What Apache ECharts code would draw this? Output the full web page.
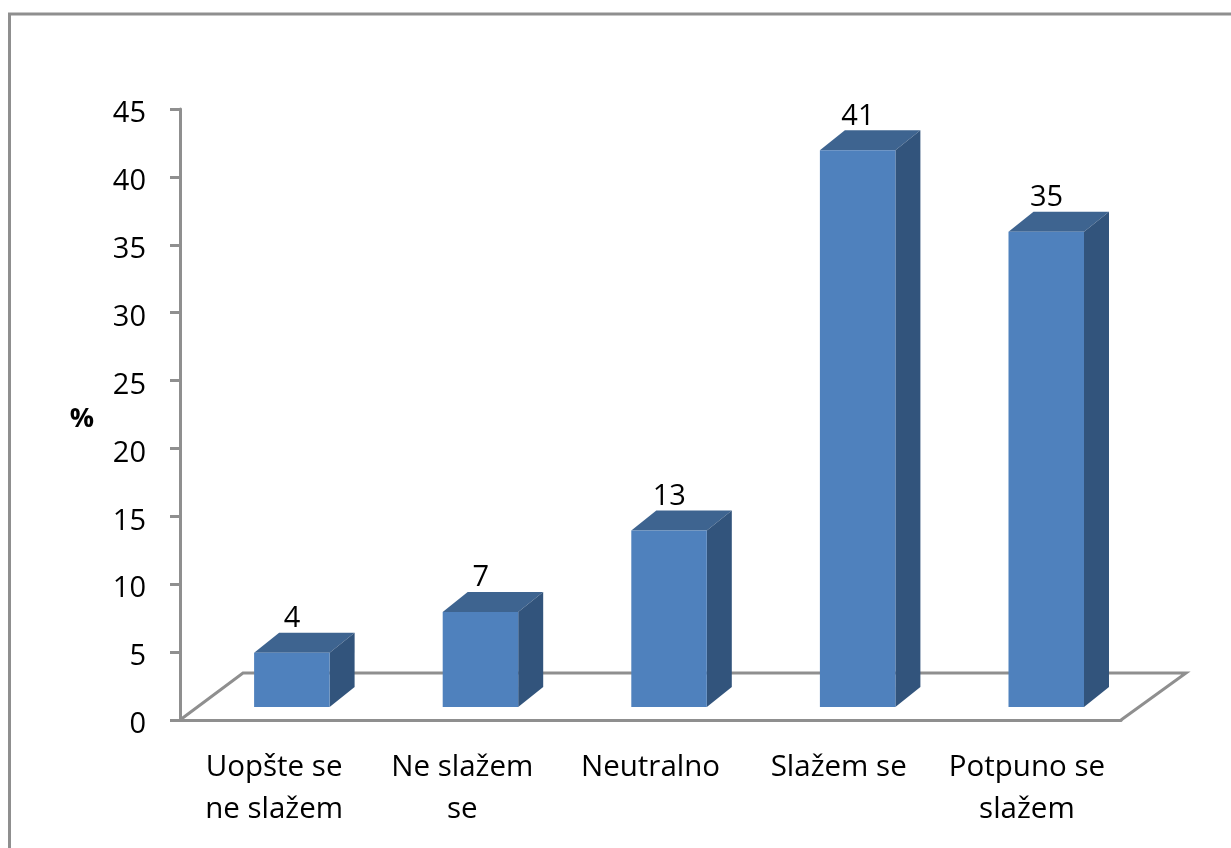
<!DOCTYPE html>
<html>
<head>
    <meta charset="utf-8">
    <title>Slaganje</title>
    <style>
        html, body { margin: 0; padding: 0; background: #fff; overflow: hidden; }
        #chartmain { width: 1231px; height: 848px; }
    </style>
    <script src="https://cdn.jsdelivr.net/npm/echarts@6/dist/echarts.min.js"></script>
</head>
<body>
<div id="chartmain"></div>
<script>
    var categories = ['Uopšte se\nne slažem', 'Ne slažem\nse', 'Neutralno', 'Slažem se', 'Potpuno se\nslažem'];
    var values = [4, 7, 13, 41, 35];
    var yMax = 45;
    var yStep = 5;
    var yName = '%';

    var fontName = '"Open Sans", "Noto Sans", sans-serif';
    var greyLine = '#8f8f8f';
    // 3D look of the old office chart
    var depthX = 25, depthY = 20;
    var barHalf = 38, barShift = 18, baseLift = 13;
    var floorX = 63, floorY = 47;

    function renderBar(params, api) {
        var top = api.coord([api.value(0), api.value(1)]);
        var base = api.coord([api.value(0), 0]);
        // bars sit a touch wider apart than the axis ticks in the original
        var cx = top[0] + barShift + api.value(0) * 0.4;
        var l = cx - barHalf;
        var r = cx + barHalf - 0.5;
        var t = top[1] - baseLift;
        var b = base[1] - baseLift;
        return {
            type: 'group',
            children: [
                {
                    type: 'polygon',
                    shape: {points: [[l, t], [l + depthX, t - depthY], [r + depthX, t - depthY], [r, t]]},
                    style: {fill: '#3e6490'}
                },
                {
                    type: 'polygon',
                    shape: {points: [[r, t], [r + depthX, t - depthY], [r + depthX, b - depthY], [r, b]]},
                    style: {fill: '#32547c'}
                },
                {
                    type: 'rect',
                    shape: {x: l, y: t, width: r - l, height: b - t},
                    style: {fill: '#4f81bd'}
                },
                {
                    type: 'text',
                    style: {
                        text: String(api.value(1)),
                        x: cx,
                        y: t - depthY - 14,
                        align: 'center',
                        verticalAlign: 'middle',
                        fill: '#000',
                        font: '29px ' + fontName
                    }
                }
            ]
        };
    }

    function renderFloor(params) {
        var c = params.coordSys;
        var b = c.y + c.height;
        return {
            type: 'polyline',
            shape: {
                points: [[c.x, b], [c.x + floorX, b - floorY], [c.x + c.width + floorX + 2, b - floorY], [c.x + c.width, b]]
            },
            style: {fill: null, stroke: greyLine, lineWidth: 3}
        };
    }

    var myChart = echarts.init(document.getElementById('chartmain'));
    myChart.setOption({
        animation: false,
        backgroundColor: '#fff',
        graphic: [{
            type: 'polyline',
            shape: {points: [[9.5, 848], [9.5, 14], [1231, 14]]},
            style: {fill: null, stroke: greyLine, lineWidth: 3},
            silent: true
        }],
        grid: {left: 180, top: 109, width: 941, height: 611},
        xAxis: {
            type: 'category',
            data: categories,
            axisLine: {lineStyle: {color: greyLine, width: 3}},
            axisTick: {length: 10, lineStyle: {color: greyLine, width: 3}},
            axisLabel: {
                color: '#000',
                fontFamily: fontName,
                fontSize: 29.5,
                lineHeight: 42,
                margin: 27,
                interval: 0
            }
        },
        yAxis: {
            type: 'value',
            min: 0,
            max: yMax,
            interval: yStep,
            name: yName,
            nameLocation: 'middle',
            nameGap: 86,
            nameRotate: 0,
            nameTextStyle: {color: '#000', fontFamily: fontName, fontSize: 27, fontWeight: 'bold', verticalAlign: 'top', lineHeight: 10},
            splitLine: {show: false},
            axisLine: {show: true, lineStyle: {color: greyLine, width: 3}},
            axisTick: {show: true, length: 10, lineStyle: {color: greyLine, width: 3}},
            axisLabel: {color: '#000', fontFamily: fontName, fontSize: 29, margin: 34, verticalAlign: 'top', lineHeight: 10}
        },
        series: [
            {
                type: 'custom',
                coordinateSystem: 'cartesian2d',
                renderItem: renderFloor,
                data: [[0, 0]],
                silent: true,
                z: 1
            },
            {
                type: 'custom',
                coordinateSystem: 'cartesian2d',
                renderItem: renderBar,
                data: values.map(function (v, i) { return [i, v]; }),
                encode: {x: 0, y: 1},
                z: 3
            }
        ]
    });
</script>
</body>
</html>
